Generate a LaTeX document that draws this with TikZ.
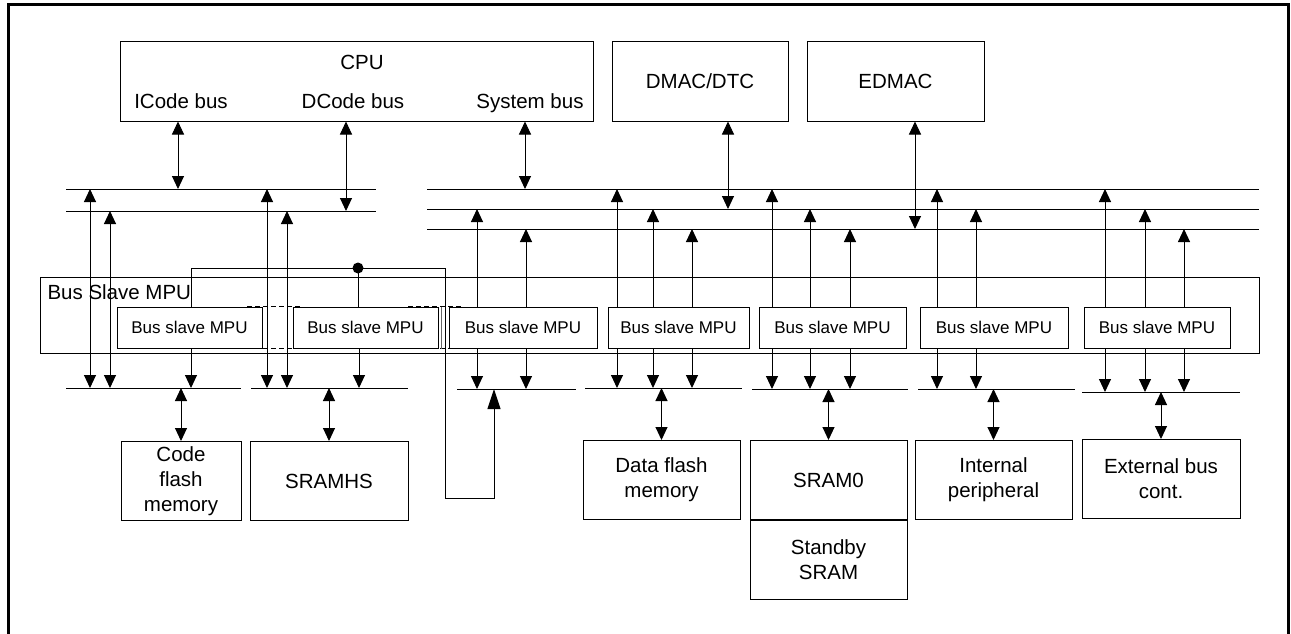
\documentclass[tikz,border=0pt]{standalone}
\usepackage{fontspec}
\setmainfont{Liberation Sans}
\usetikzlibrary{positioning,arrows.meta,calc}

\begin{document}
\begin{tikzpicture}[x=1pt,y=-1pt,line width=1pt,
    every node/.style={font=\fontsize{20.5}{25}\selectfont,inner sep=0pt,align=center},
    box/.style={draw,minimum height=79pt},
    mpubox/.style={draw,minimum height=41pt,font=\fontsize{17}{20}\selectfont},
    tip/.style={-{Triangle[width=12pt,length=13pt]}},
    bigtip/.style={-{Triangle[width=13pt,length=20pt]}},
    dbl/.style={{Triangle[width=12pt,length=13pt]}-{Triangle[width=12pt,length=13pt]}},
    link/.style={dash pattern=on 5pt off 3pt,line width=1.3pt}]
  \useasboundingbox (0,0) rectangle (1291,634);
  \draw[line width=3pt] (8.5,634) -- (8.5,4.5) -- (1288.5,4.5) -- (1288.5,634);

  % masters
  \node[box,minimum width=473pt] (cpu) at (356.5,81.5) {};
  \node[anchor=base] (cputxt) at (362,70) {CPU};
  \node[anchor=base] (icode) at (181,109) {ICode bus};
  \node[anchor=base] (dcode) at (353,109) {DCode bus};
  \node[anchor=base] (sysbus) at (530,109) {System bus};
  \node[box,minimum width=176pt] (dmac) at (700,81.5) {DMAC/DTC};
  \node[box,minimum width=177pt] (edmac) at (895.5,81.5) {EDMAC};

  % buses
  \draw (66,189) coordinate (la) -- (376,189);
  \draw (66,211) coordinate (lb) -- (376,211);
  \draw (427,189) coordinate (ra) -- (1259,189);
  \draw (427,209) coordinate (rb) -- (1259,209);
  \draw (427,229) coordinate (rc) -- (1259,229);

  \draw[dbl] (178,0 |- cpu.south) -- (178,0 |- la);
  \draw[dbl] (346,0 |- cpu.south) -- (346,0 |- lb);
  \draw[dbl] (525,0 |- cpu.south) -- (525,0 |- ra);
  \draw[dbl] (728,0 |- dmac.south) -- (728,0 |- rb);
  \draw[dbl] (915,0 |- edmac.south) -- (915,0 |- rc);

  % bus slave MPU
  \node[draw,minimum width=1219pt,minimum height=76pt] (mpuall) at (649.5,315) {};
  \node[anchor=west] (mpulbl) at (47,292) {Bus Slave MPU};
  \node[mpubox,minimum width=145pt] (mpu1) at (189.5,327.5) {Bus slave MPU};
  \node[mpubox,minimum width=145pt] (mpu2) at (365.5,327.5) {Bus slave MPU};
  \node[mpubox,minimum width=148pt] (mpu3) at (523,327.5) {Bus slave MPU};
  \node[mpubox,minimum width=141pt] (mpu4) at (678.5,327.5) {Bus slave MPU};
  \node[mpubox,minimum width=147pt] (mpu5) at (832.5,327.5) {Bus slave MPU};
  \node[mpubox,minimum width=148pt] (mpu6) at (994,327.5) {Bus slave MPU};
  \node[mpubox,minimum width=146pt] (mpu7) at (1157,327.5) {Bus slave MPU};
  \draw[link] (247,0 |- mpu1.north) -- (300,0 |- mpu1.north);
  \draw[link] (247,0 |- mpu1.south) -- (300,0 |- mpu1.south);
  \draw[link] (408,0 |- mpu2.north) -- (463,0 |- mpu2.north);
  \draw[link] (408,0 |- mpu2.south) -- (463,0 |- mpu2.south);
  \draw[black!60] (441,0 |- mpu2.north) -- (441,0 |- mpu2.south);

  % slave side buses
  \draw (66,388) coordinate (lo1) -- (241,388);
  \draw (251,388) coordinate (lo2) -- (408,388);
  \draw (457,389) coordinate (lo3) -- (576,389);
  \draw (585,388) coordinate (lo4) -- (742,388);
  \draw (752,389) coordinate (lo5) -- (908,389);
  \draw (918,389) coordinate (lo6) -- (1075,389);
  \draw (1082,392) coordinate (lo7) -- (1240,392);

  \foreach \x/\b in {90/la,110/lb,267/la,287/lb}
    \draw[dbl] (\x,0 |- \b) -- (\x,0 |- lo1);
  \foreach \x/\b/\m in {477/rb/mpu3,526/rc/mpu3,617/ra/mpu4,653/rb/mpu4,692/rc/mpu4,
      772/ra/mpu5,810/rb/mpu5,850/rc/mpu5,937/ra/mpu6,976/rb/mpu6,
      1105/ra/mpu7,1145/rb/mpu7,1184/rc/mpu7}
    \draw[tip] (\x,0 |- \m.north) -- (\x,0 |- \b);
  \foreach \x/\m/\l in {191/mpu1/lo1,359/mpu2/lo2,477/mpu3/lo3,526/mpu3/lo3,
      617/mpu4/lo4,653/mpu4/lo4,692/mpu4/lo4,772/mpu5/lo5,810/mpu5/lo5,850/mpu5/lo5,
      937/mpu6/lo6,976/mpu6/lo6,1105/mpu7/lo7,1145/mpu7/lo7,1184/mpu7/lo7}
    \draw[tip] (\x,0 |- \m.south) -- (\x,0 |- \l);

  % SRAMHS path
  \coordinate (jn) at (358,268);
  \draw[bigtip] (191,0 |- mpu1.north) |- (445,268) |- (494,498) -- (494,0 |- lo3);
  \fill (jn) circle (5.5pt);
  \draw (jn) -- (jn |- mpu2.north);

  % slaves
  \node[box,minimum width=120pt] (cfm) at (181,481) {Code\\flash\\memory};
  \node[box,minimum width=158pt] (sramhs) at (329,481) {SRAMHS};
  \node[box,minimum width=157pt] (dfm) at (661.5,480) {Data flash\\memory};
  \node[box,minimum width=157pt] (sram0) at (828.5,480) {SRAM0};
  \node[box,minimum width=157pt,below=0pt of sram0] (stby) {Standby\\SRAM};
  \node[box,minimum width=157pt] (intp) at (993.5,480) {Internal\\peripheral};
  \node[box,minimum width=158pt] (ext) at (1161,479) {External bus\\cont.};
  \draw[dbl] (cfm |- lo1) -- (cfm.north);
  \draw[dbl] (sramhs |- lo2) -- (sramhs.north);
  \draw[dbl] (dfm |- lo4) -- (dfm.north);
  \draw[dbl] (sram0 |- lo5) -- (sram0.north);
  \draw[dbl] (intp |- lo6) -- (intp.north);
  \draw[dbl] (ext |- lo7) -- (ext.north);
\end{tikzpicture}
\end{document}
